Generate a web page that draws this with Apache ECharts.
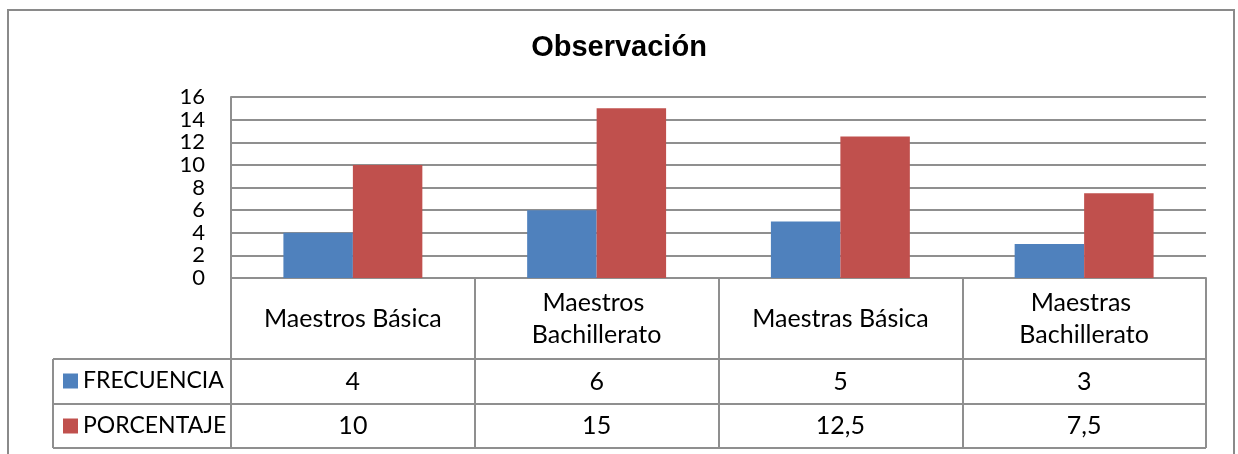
<!DOCTYPE html>
<html>
<head>
<meta charset="utf-8">
<script src="https://cdn.jsdelivr.net/npm/echarts@6/dist/echarts.min.js"></script>
<style>
  html, body { margin: 0; padding: 0; background: #fff; }
  #chart { width: 1238px; height: 454px; }
</style>
</head>
<body>
<div id="chart"></div>
<script>
// datos del grafico
var categorias = ['Maestros Básica', 'Maestros Bachillerato', 'Maestras Básica', 'Maestras Bachillerato'];
var frecuencia = [4, 6, 5, 3];
var porcentaje = [10, 15, 12.5, 7.5];
var series_nombres = ['FRECUENCIA', 'PORCENTAJE'];

var chart = echarts.init(document.getElementById('chart'));

// medidas del area de trazado y de la tabla
var gLeft = 231, gRight = 1206, gTop = 97, gBottom = 278;
var fila1 = 359, fila2 = 404, fila3 = 448, tablaIzq = 53;
var gris = '#8f8f8f';
var fuente = 'Lato, "Noto Sans", sans-serif';

function coma(v) { return String(v).replace('.', ','); }

var option = {
  backgroundColor: '#fff',
  animation: false,
  title: {
    text: 'Observación',
    left: 'center',
    top: 33,
    padding: 0,
    textStyle: { fontFamily: '"Liberation Sans", Arial, sans-serif', fontSize: 29, fontWeight: 'bold', color: '#000' }
  },
  legend: [
    {
      data: [series_nombres[0]], left: 63, top: 369, padding: 0,
      icon: 'rect', itemWidth: 15, itemHeight: 15, itemGap: 6,
      textStyle: { fontFamily: fuente, fontSize: 23, color: '#000', lineHeight: 24 }
    },
    {
      data: [series_nombres[1]], left: 63, top: 414, padding: 0,
      icon: 'rect', itemWidth: 15, itemHeight: 15, itemGap: 6,
      textStyle: { fontFamily: fuente, fontSize: 23, color: '#000', lineHeight: 24 }
    }
  ],
  grid: { left: gLeft, right: 1238 - gRight, top: gTop, bottom: 454 - gBottom },
  xAxis: [
    {
      type: 'category',
      data: categorias,
      axisLine: { show: true, lineStyle: { color: gris, width: 2 } },
      axisTick: { show: true, length: fila3 - gBottom, lineStyle: { color: gris, width: 2 } },
      axisLabel: {
        fontFamily: fuente, fontSize: 25, color: '#000', lineHeight: 32,
        margin: 41, verticalAlign: 'middle', width: 195, overflow: 'break', interval: 0
      }
    },
    {
      type: 'category',
      data: categorias,
      position: 'bottom',
      offset: 104,
      axisLine: { show: false }, axisTick: { show: false },
      axisLabel: {
        fontFamily: fuente, fontSize: 25, color: '#000', margin: 0, verticalAlign: 'middle', interval: 0,
        formatter: function (v, i) { return coma(frecuencia[i]); }
      }
    },
    {
      type: 'category',
      data: categorias,
      position: 'bottom',
      offset: 148,
      axisLine: { show: false }, axisTick: { show: false },
      axisLabel: {
        fontFamily: fuente, fontSize: 25, color: '#000', margin: 0, verticalAlign: 'middle', interval: 0,
        formatter: function (v, i) { return coma(porcentaje[i]); }
      }
    }
  ],
  yAxis: {
    type: 'value',
    min: 0, max: 16, interval: 2,
    axisLine: { show: true, lineStyle: { color: gris, width: 2 } },
    axisTick: { show: false },
    axisLabel: {
      fontFamily: fuente, fontSize: 22, color: '#000', margin: 26, lineHeight: 20,
      showMinLabel: true, showMaxLabel: true, hideOverlap: false
    },
    splitLine: { show: true, lineStyle: { color: gris, width: 2 } }
  },
  series: [
    {
      name: series_nombres[0], type: 'bar', data: frecuencia,
      barGap: 0, barCategoryGap: '43%',
      itemStyle: { color: '#4F81BD' }
    },
    {
      name: series_nombres[1], type: 'bar', data: porcentaje,
      barGap: 0, barCategoryGap: '43%',
      itemStyle: { color: '#C0504D' }
    }
  ],
  graphic: [
    { type: 'rect', shape: { x: 8, y: 10, width: 1226, height: 470 }, style: { fill: 'none', stroke: '#8a8a8a', lineWidth: 2 }, z: -1 },
    { type: 'line', shape: { x1: tablaIzq, y1: fila1, x2: gRight, y2: fila1 }, style: { stroke: gris, lineWidth: 2 } },
    { type: 'line', shape: { x1: tablaIzq, y1: fila2, x2: gRight, y2: fila2 }, style: { stroke: gris, lineWidth: 2 } },
    { type: 'line', shape: { x1: tablaIzq, y1: fila3, x2: gRight, y2: fila3 }, style: { stroke: gris, lineWidth: 2 } },
    { type: 'line', shape: { x1: tablaIzq, y1: fila1, x2: tablaIzq, y2: fila3 }, style: { stroke: gris, lineWidth: 2 } }
  ]
};

chart.setOption(option);
</script>
</body>
</html>
